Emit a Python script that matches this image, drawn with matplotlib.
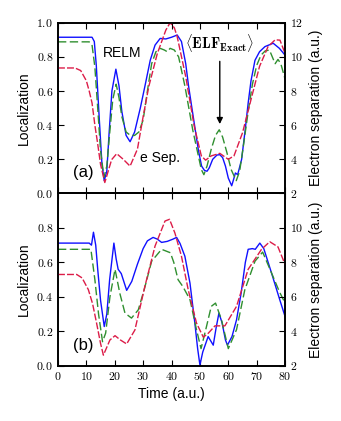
import numpy as np
import matplotlib
matplotlib.use('Agg')
import matplotlib.pyplot as plt
from matplotlib.ticker import FuncFormatter

plt.rcParams['mathtext.fontset'] = 'cm'
plt.rcParams['font.family'] = ['Liberation Sans', 'DejaVu Sans']

# ---- panel (a) ----
t_relm_a = [0, 12, 12.8, 13.5, 14.5, 15.5, 16.3, 17.2, 18, 19, 20.4, 21.5, 22.5, 24, 25.4, 27, 29, 30.6,
            32.5, 34.2, 36, 38, 40, 42, 43.5, 45, 46, 47, 48.2, 49.5, 50.6, 51.6, 52.5, 53.3, 54.5, 56, 57,
            58, 59, 60, 61.2, 62, 62.5, 63.3, 64.7, 66, 67, 68, 69.4, 71, 72.9, 75.8, 78, 80]
relm_a = [0.915, 0.915, 0.89, 0.75, 0.45, 0.17, 0.075, 0.13, 0.35, 0.6, 0.728, 0.63, 0.48, 0.34, 0.303, 0.36,
          0.5, 0.626, 0.78, 0.869, 0.908, 0.905, 0.915, 0.928, 0.89, 0.76, 0.63, 0.52, 0.39, 0.25, 0.16, 0.135,
          0.13, 0.15, 0.2, 0.225, 0.227, 0.21, 0.16, 0.09, 0.045, 0.09, 0.12, 0.11, 0.2, 0.38, 0.53, 0.66,
          0.78, 0.83, 0.86, 0.88, 0.85, 0.81]

t_elf_a = [0, 11, 12, 13, 14, 15, 16.2, 17.2, 18.2, 19.3, 20.5, 21.5, 22.5, 24, 25.5, 27, 28.5, 30, 31.5, 33,
           34.5, 36, 37.5, 38.5, 39.5, 41, 42.5, 44.7, 47.5, 50.5, 51.4, 52.5, 54, 55.5, 56.8, 58, 59.5, 61,
           62.8, 64, 65.5, 67, 68.5, 70, 71.5, 73, 74.5, 75.5, 76.5, 77.5, 78.5, 80]
elf_a = [0.888, 0.888, 0.87, 0.74, 0.5, 0.25, 0.095, 0.16, 0.35, 0.55, 0.64, 0.56, 0.45, 0.36, 0.34, 0.34,
         0.36, 0.43, 0.6, 0.76, 0.83, 0.85, 0.84, 0.83, 0.85, 0.84, 0.8, 0.63, 0.37, 0.14, 0.11, 0.16, 0.26,
         0.34, 0.373, 0.33, 0.24, 0.14, 0.075, 0.13, 0.3, 0.48, 0.64, 0.75, 0.81, 0.835, 0.84, 0.8, 0.76,
         0.785, 0.76, 0.67]

# electron separation (a.u.), right axis
t_sep_a = [0, 6, 8, 10, 11, 12, 13, 14, 15, 16.5, 18.9, 20.7, 23, 25.4, 28, 30, 32, 35, 38, 39.5, 41, 42,
           45, 48, 50.5, 52, 54, 57, 60, 62, 65, 68, 71, 74, 76.5, 78.2, 80]
sep_a = [9.35, 9.35, 9.2, 8.6, 8.0, 7.3, 6.0, 4.9, 3.7, 2.64, 3.98, 4.33, 4.0, 3.6, 4.6, 6.5, 8.27, 10.2,
         11.57, 12.0, 11.7, 11.18, 8.85, 5.94, 4.2, 3.95, 4.2, 4.35, 4.0, 4.2, 5.55, 7.5, 9.44, 10.6, 11.0,
         10.98, 10.2]

# ---- panel (b) ----
t_relm_b = [0, 11, 11.8, 12.5, 13.3, 14, 15, 16.3, 17.2, 18.2, 19.7, 20.5, 21.2, 22.3, 24.2, 26, 28, 30,
            31.5, 33.5, 35, 36.5, 38.5, 40.5, 41.8, 43, 44.7, 46.5, 48.2, 49.2, 50, 51, 52.9, 54.7, 55.7,
            56.7, 57.8, 59, 59.7, 61.3, 62.9, 64.5, 66, 67, 68.5, 69.5, 71.1, 72.5, 75.2, 78, 80]
relm_b = [0.712, 0.712, 0.70, 0.775, 0.7, 0.56, 0.38, 0.228, 0.3, 0.5, 0.712, 0.62, 0.56, 0.535, 0.438,
          0.49, 0.59, 0.68, 0.725, 0.745, 0.735, 0.716, 0.722, 0.735, 0.745, 0.71, 0.636, 0.48, 0.25, 0.1,
          0.005, 0.08, 0.17, 0.12, 0.22, 0.306, 0.25, 0.15, 0.12, 0.17, 0.267, 0.42, 0.6, 0.676, 0.68, 0.676,
          0.712, 0.68, 0.54, 0.39, 0.286]

t_elf_b = [0, 11.6, 13, 14.3, 15.7, 16.8, 18.3, 20.1, 21.8, 23.6, 25.9, 28.3, 30.5, 33, 36.5, 39.6, 40.8,
           42.3, 44, 46.5, 48.8, 50.4, 52.2, 54, 55.5, 57.6, 60, 62.9, 65.8, 69.4, 72.1, 75.2, 78, 80]
elf_b = [0.676, 0.676, 0.5, 0.3, 0.14, 0.19, 0.4, 0.56, 0.42, 0.306, 0.277, 0.325, 0.45, 0.607, 0.676,
         0.656, 0.6, 0.5, 0.46, 0.384, 0.21, 0.10, 0.22, 0.345, 0.364, 0.267, 0.10, 0.21, 0.44, 0.607, 0.66,
         0.54, 0.43, 0.364]

t_sep_b = [0, 6.6, 8.5, 10.7, 12.2, 13.6, 15, 16, 18.3, 20.1, 22, 24.2, 27.1, 30.6, 34.2, 37.7, 39.3,
           41.2, 43.5, 45.9, 48.8, 51.2, 53, 55.3, 58.8, 62.9, 67, 71.7, 74.6, 77.5, 80]
sep_b = [7.3, 7.3, 7.1, 6.42, 5.6, 4.48, 3.3, 2.62, 3.5, 3.75, 3.5, 3.27, 4.08, 6.6, 8.95, 10.4, 10.5,
         9.7, 8.36, 6.4, 4.48, 3.66, 3.9, 4.32, 4.32, 5.45, 7.6, 8.76, 9.2, 8.9, 7.88]

c_blue = '#1010ff'
c_green = '#2f8f2f'
c_red = '#dc1c48'

fig = plt.figure(figsize=(3.41, 4.21), dpi=100)
ax1 = fig.add_axes([0.170, 0.5405, 0.666, 0.4055])
ax2 = fig.add_axes([0.170, 0.131, 0.666, 0.4095])

def fmt_loc(v, pos):
    return r'$%.1f$' % v

def fmt_int(v, pos):
    return r'$%d$' % round(v)

paneles = [(ax1, t_relm_a, relm_a, t_elf_a, elf_a, t_sep_a, sep_a, '(a)'),
           (ax2, t_relm_b, relm_b, t_elf_b, elf_b, t_sep_b, sep_b, '(b)')]

for ax, tr, r, te, e, ts, s, letra in paneles:
    ax.plot(tr, r, '-', color=c_blue, lw=1.0)
    ax.plot(te, e, '--', color=c_green, lw=1.0, dashes=(6, 2.5))
    ax.set_xlim(0, 80)
    ax.set_ylim(0, 1.0)
    ax.set_xticks(np.arange(0, 81, 10))
    ax.set_yticks(np.arange(0, 1.01, 0.2))
    ax.yaxis.set_major_formatter(FuncFormatter(fmt_loc))
    ax.xaxis.set_major_formatter(FuncFormatter(fmt_int))
    ax.tick_params(direction='in', length=4, width=0.8, labelsize=8.5, top=True)
    ax.set_ylabel('Localization', fontsize=10, labelpad=4)
    for sp in ax.spines.values():
        sp.set_linewidth(1.2)
    ax.text(5.3, 0.12, letra, fontsize=12, va='center')

    tw = ax.twinx()
    tw.plot(ts, s, '--', color=c_red, lw=1.0, dashes=(5, 1.5))
    tw.set_ylim(2, 12)
    tw.set_yticks(np.arange(2, 13, 2))
    tw.yaxis.set_major_formatter(FuncFormatter(fmt_int))
    tw.tick_params(direction='in', length=4, width=0.8, labelsize=8.5)
    tw.set_ylabel('Electron separation (a.u.)', fontsize=10, labelpad=4)
    for sp in tw.spines.values():
        sp.set_linewidth(1.2)
    ax.twin = tw

ax1.tick_params(labelbottom=False)
ax2.set_yticks(np.arange(0, 0.81, 0.2))
ax2.twin.set_yticks(np.arange(2, 11, 2))
ax2.set_xlabel('Time (a.u.)', fontsize=10, labelpad=3)

ax1.text(15.8, 0.82, 'RELM', fontsize=10, va='center')
ax1.text(28.9, 0.21, 'e Sep.', fontsize=10, va='center')
ax1.text(56.8, 0.88, r'$\langle \mathbf{ELF}_{\mathbf{Exact}} \rangle$', fontsize=10.5,
         ha='center', va='center')
ax1.annotate('', xy=(57, 0.39), xytext=(57, 0.79),
             arrowprops=dict(arrowstyle='-|>', color='k', lw=1.0, mutation_scale=9))

fig.savefig('out.png', dpi=100)
